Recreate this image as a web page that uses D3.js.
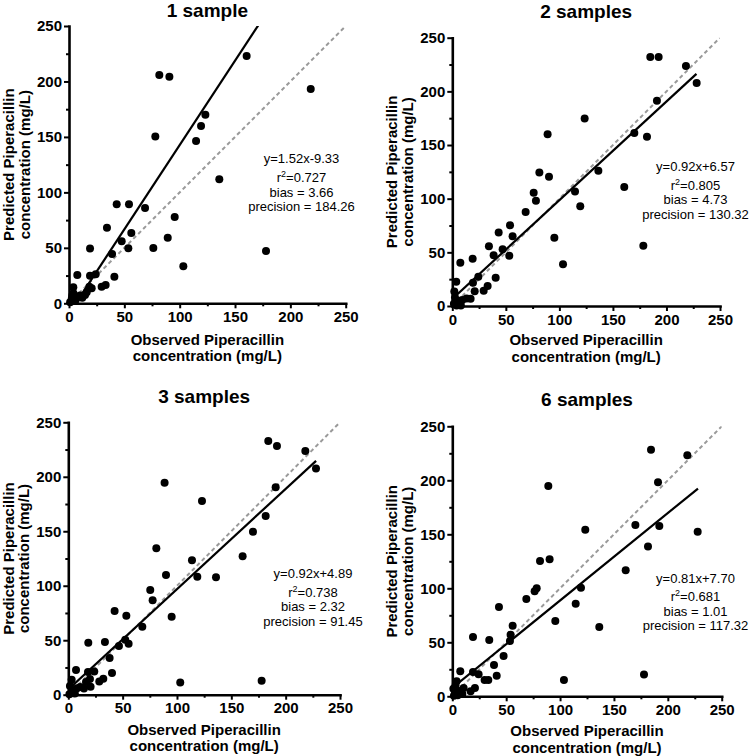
<!DOCTYPE html>
<html><head><meta charset="utf-8">
<script src="https://cdn.jsdelivr.net/npm/d3@7"></script>
<style>body{margin:0;background:#fff} text{font-family:"Liberation Sans",Arial,sans-serif}</style>
</head><body><svg id="c" width="750" height="756"></svg>
<script>
// ---------- data ----------
const titles = ["1 sample", "2 samples", "3 samples", "6 samples"];
const tickValues = [0, 50, 100, 150, 200, 250];
const minorTickValues = [25, 75, 125, 175, 225];
const slopes = [1.52, 0.92, 0.92, 0.81];
const intercepts = [-9.33, 6.57, 4.89, 7.70];
const fitXRange = [0, 228];
const eqLabels = ["y=1.52x-9.33", "y=0.92x+6.57", "y=0.92x+4.89", "y=0.81x+7.70"];
const r2Labels = ["=0.727", "=0.805", "=0.738", "=0.681"];
const biasLabels = ["bias = 3.66", "bias = 4.73", "bias = 2.32", "bias = 1.01"];
const precisionLabels = ["precision = 184.26", "precision = 130.32", "precision = 91.45", "precision = 117.32"];
const xLabelLines = ["Observed Piperacillin", "concentration (mg/L)"];
const yLabelLines = ["Predicted Piperacillin", "concentration (mg/L)"];

// [observed, predicted]
const sample1 = [[160.5,223],[81.6,205.8],[90.7,204.3],[218.4,193.2],[123.2,170.1],[119.3,159.9],[114.8,146.3],[78,150.3],[135.8,111.8],[43.1,89.2],[54.2,89.2],[68.7,85.9],[95.5,77.8],[34.3,68.2],[56.3,63.4],[89.2,59.2],[47.6,55.9],[19,49.3],[53.6,49.6],[76.2,49.9],[38.9,44.5],[178,47.2],[103.3,33.4],[7.5,25.5],[19,24.9],[24.1,26.2],[41,24],[33.1,16.5],[29.5,15],[3.9,14.4],[18.4,15],[20.5,13.5],[14.5,7.5],[8.4,6],[4,9],[2.5,4],[6,3],[1,1],[3,7],[10,7],[12,5],[16,10],[5,2]];
const sample2 = [[218.2,223.6],[228.2,207.8],[184.9,232],[192.7,232],[191.1,191.3],[170,161.2],[181.8,157.8],[160.6,110.9],[123.6,174.6],[89,160],[81.3,124.5],[90.3,120.5],[136.4,126.1],[114.6,106.8],[119.5,92.9],[76,105.6],[78.1,98.1],[68.5,87.6],[95.3,63.7],[103.4,38.8],[178.4,56.2],[53.9,75.2],[56.3,64.9],[43.3,68.6],[34.2,55.6],[47,52.8],[38.6,47.2],[53.2,46.9],[19,44.1],[7.5,40.4],[19.3,21.7],[24.3,27.3],[40.5,26.4],[33,18.6],[29.3,14.3],[20.9,13.7],[3.7,22.7],[17.1,6.8],[13.4,7.1],[9.3,5.6],[1.9,13.4],[2.5,8],[1.5,2],[5,2],[4,0.5],[8,0.5],[6,5],[3,4]];
const sample3 = [[184,232.9],[192,228.3],[218.1,223.7],[227.9,207.5],[190.8,190.3],[88.6,194.6],[123,177.8],[181.6,164],[169.9,149.6],[160.4,127],[81,134.3],[113.8,123.3],[89.9,109.9],[118.7,108.3],[135.9,107.7],[75.4,96.1],[77.6,86.6],[42.6,76.8],[53.4,72.5],[95.1,71.6],[68.1,62.4],[18.4,47.7],[33.7,48.3],[46.6,44.7],[52.4,50.5],[55.5,46.8],[38,33.7],[40.2,19.9],[23.9,21.4],[18.1,20.8],[7.1,22.6],[19.9,14.4],[32.2,14.7],[28.5,12.2],[16.3,11.6],[20.5,7.3],[14.4,5.8],[103,11.3],[177.9,12.9],[3.1,13.8],[1.5,8],[4.5,4],[8,6],[11,7],[3,1.5],[6,1],[1,0.5]];
const sample6 = [[184.4,228.4],[218.1,223.1],[190.9,198.1],[89.1,194.7],[192.1,157.7],[169.9,158.6],[227.7,152.4],[123.4,154.3],[181.6,138.6],[160.9,116.7],[81.4,125.3],[90.3,126.8],[78.3,100],[76.4,97.2],[68.7,90.1],[114.5,85.8],[119.4,100.6],[95.6,69.7],[136.4,64.2],[43.3,82.7],[56,65.4],[54.1,57.1],[53.5,51.2],[34.3,52.2],[19.2,54.9],[47.6,37.3],[38.7,29],[41.2,19.1],[7.4,23.1],[19.2,22.5],[24.4,20.4],[30,15.1],[33.4,15.1],[21,7.7],[10.5,7.7],[17,4.6],[103.6,15.1],[177.9,20.1],[4,13.9],[9.3,2.2],[1,7],[2.5,3],[5,1],[3,10],[1.5,0.5],[7,5]];
const datasets = [sample1, sample2, sample3, sample6];

// ---------- layout ----------
const layout = [
  {l:69, r:345.7, t:26, b:303.3, titleY:17.3, yl:[-55,-39.5], xl:[41.5,57.5], ann:{x:301.5, y:[163,182,196.5,211]}},
  {l:452.3, r:720, t:37.7, b:306, titleY:17.5, yl:[-55,-39], xl:[39,55.5], ann:{x:695.5, y:[171.4,189.8,204.3,218.8]}},
  {l:68.3, r:340, t:422.3, b:694.7, titleY:403, yl:[-54.3,-39.3], xl:[40,56.5], ann:{x:313, y:[577.7,596.6,611.1,625.6]}},
  {l:452.3, r:721.7, t:426.3, b:696.3, titleY:406, yl:[-55,-39], xl:[40,56.5], ann:{x:695.5, y:[582.7,601,615.5,630]}}
];

const svg = d3.select("#c");
const defs = svg.append("defs");

layout.forEach((L, i) => {
  const x = d3.scaleLinear().domain([0, 250]).range([L.l, L.r]);
  const y = d3.scaleLinear().domain([0, 250]).range([L.b, L.t]);
  const g = svg.append("g");

  defs.append("clipPath").attr("id", "clip" + i).append("rect")
    .attr("x", L.l).attr("y", L.t).attr("width", L.r - L.l).attr("height", L.b - L.t);

  // title
  g.append("text").attr("x", (L.l + L.r) / 2).attr("y", L.titleY)
    .attr("text-anchor", "middle").attr("font-size", 19).attr("font-weight", "bold").text(titles[i]);

  // axes
  const xa = g.append("g").attr("transform", `translate(0,${L.b})`)
    .call(d3.axisBottom(x).tickValues(tickValues).tickSize(5).tickSizeOuter(0).tickPadding(3).tickFormat(d3.format("d")));
  const xm = g.append("g").attr("transform", `translate(0,${L.b})`)
    .call(d3.axisBottom(x).tickValues(minorTickValues).tickSize(3).tickSizeOuter(0).tickFormat(""));
  const ya = g.append("g").attr("transform", `translate(${L.l},0)`)
    .call(d3.axisLeft(y).tickValues(tickValues).tickSize(5).tickSizeOuter(0).tickPadding(2).tickFormat(d3.format("d")));
  const ym = g.append("g").attr("transform", `translate(${L.l},0)`)
    .call(d3.axisLeft(y).tickValues(minorTickValues).tickSize(3).tickSizeOuter(0).tickFormat(""));
  [xm, ym].forEach(a => a.select(".domain").remove());
  [xa, ya, xm, ym].forEach(a => {
    a.selectAll(".domain").attr("stroke", "#000").attr("stroke-width", 2.6).attr("stroke-linecap", "square");
    a.selectAll(".tick line").attr("stroke", "#000").attr("stroke-width", 2);
    a.selectAll(".tick text").attr("fill", "#000").attr("font-size", 15).attr("font-weight", "bold")
      .attr("font-family", '"Liberation Sans",Arial,sans-serif');
  });

  // axis labels
  xLabelLines.forEach((t, k) => {
    g.append("text").attr("x", (L.l + L.r) / 2).attr("y", L.b + L.xl[k])
      .attr("text-anchor", "middle").attr("font-size", 15).attr("font-weight", "bold").text(t);
  });
  yLabelLines.forEach((t, k) => {
    g.append("text").attr("transform", `translate(${L.l + L.yl[k]},${(L.t + L.b) / 2}) rotate(-90)`)
      .attr("text-anchor", "middle").attr("font-size", 15).attr("font-weight", "bold").text(t);
  });

  // identity line
  const lines = g.append("g").attr("clip-path", `url(#clip${i})`);
  lines.append("line").attr("x1", x(0)).attr("y1", y(0)).attr("x2", x(250)).attr("y2", y(250))
    .attr("stroke", "#9a9a9a").attr("stroke-width", 2).attr("stroke-dasharray", "4,3");
  // regression line
  const fx0 = fitXRange[0], fx1 = fitXRange[1];
  lines.append("line")
    .attr("x1", x(fx0)).attr("y1", y(slopes[i] * fx0 + intercepts[i]))
    .attr("x2", x(fx1)).attr("y2", y(slopes[i] * fx1 + intercepts[i]))
    .attr("stroke", "#000").attr("stroke-width", 2.2);

  // points
  g.append("g").selectAll("circle").data(datasets[i]).join("circle")
    .attr("cx", d => x(d[0])).attr("cy", d => y(d[1])).attr("r", 4).attr("fill", "#000");

  // annotation
  const A = L.ann;
  const at = (yy) => g.append("text").attr("x", A.x).attr("y", yy).attr("text-anchor", "middle").attr("font-size", 13);
  at(A.y[0]).text(eqLabels[i]);
  const r2 = at(A.y[1]);
  r2.append("tspan").text("r");
  r2.append("tspan").attr("font-size", 9).attr("dy", -5).text("2");
  r2.append("tspan").attr("dy", 5).text(r2Labels[i]);
  at(A.y[2]).text(biasLabels[i]);
  at(A.y[3]).text(precisionLabels[i]);
});
</script></body></html>
